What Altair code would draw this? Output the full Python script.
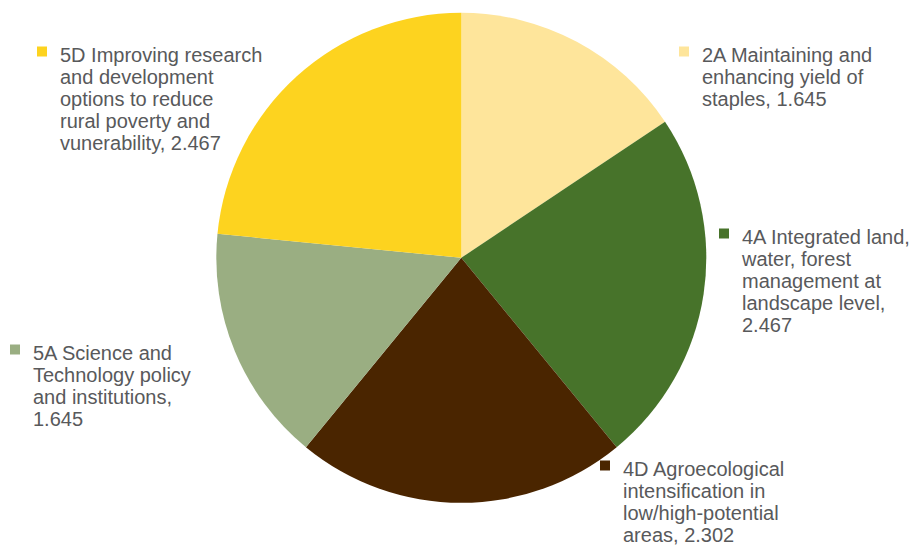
import altair as alt
import pandas as pd

codes = ["2A", "4A", "4D", "5A", "5D"]
label_lines = [
    ["2A Maintaining and", "enhancing yield of", "staples, 1.645"],
    ["4A Integrated land,", "water, forest", "management at", "landscape level,", "2.467"],
    ["4D Agroecological", "intensification in", "low/high-potential", "areas, 2.302"],
    ["5A Science and", "Technology policy", "and institutions,", "1.645"],
    ["5D Improving research", "and development", "options to reduce", "rural poverty and", "vunerability, 2.467"],
]
values = [1.645, 2.467, 2.302, 1.645, 2.467]
colors = ["#FEE59B", "#47732A", "#4A2500", "#9AAE82", "#FDD31F"]

# layout: text start x and first-line baseline y, in chart pixels
label_pos = [(694, 54), (734, 236), (615, 468), (25, 352), (52, 54)]

df = pd.DataFrame({"code": codes, "value": values, "order": list(range(len(codes)))})
color_scale = alt.Scale(domain=codes, range=colors)

pie = alt.Chart(df).mark_arc(outerRadius=245).encode(
    theta=alt.Theta("value:Q", stack=True),
    order=alt.Order("order:Q"),
    color=alt.Color("code:N", scale=color_scale, legend=None),
    x=alt.value(453.3),
    y=alt.value(249.8),
)

layers = [pie]
for i, code in enumerate(codes):
    px, py = label_pos[i]
    sub = df[df.code == code]
    sq = alt.Chart(sub).mark_square(size=100, opacity=1, filled=True).encode(
        x=alt.value(px - 18), y=alt.value(py - 10.5),
        color=alt.Color("code:N", scale=color_scale, legend=None),
    )
    txt = alt.Chart(sub).mark_text(
        align="left", baseline="alphabetic", font="Liberation Sans", fontSize=20,
        lineHeight=22, color="#58595B",
    ).encode(
        x=alt.value(px), y=alt.value(py),
        text=alt.value(label_lines[i]),
    )
    layers += [sq, txt]

chart = alt.layer(*layers).properties(
    width=903, height=538, padding=0, autosize=alt.AutoSizeParams(type="none"),
).configure_view(stroke=None)

chart.save("out.html", embed_options={"renderer": "svg", "actions": False})
